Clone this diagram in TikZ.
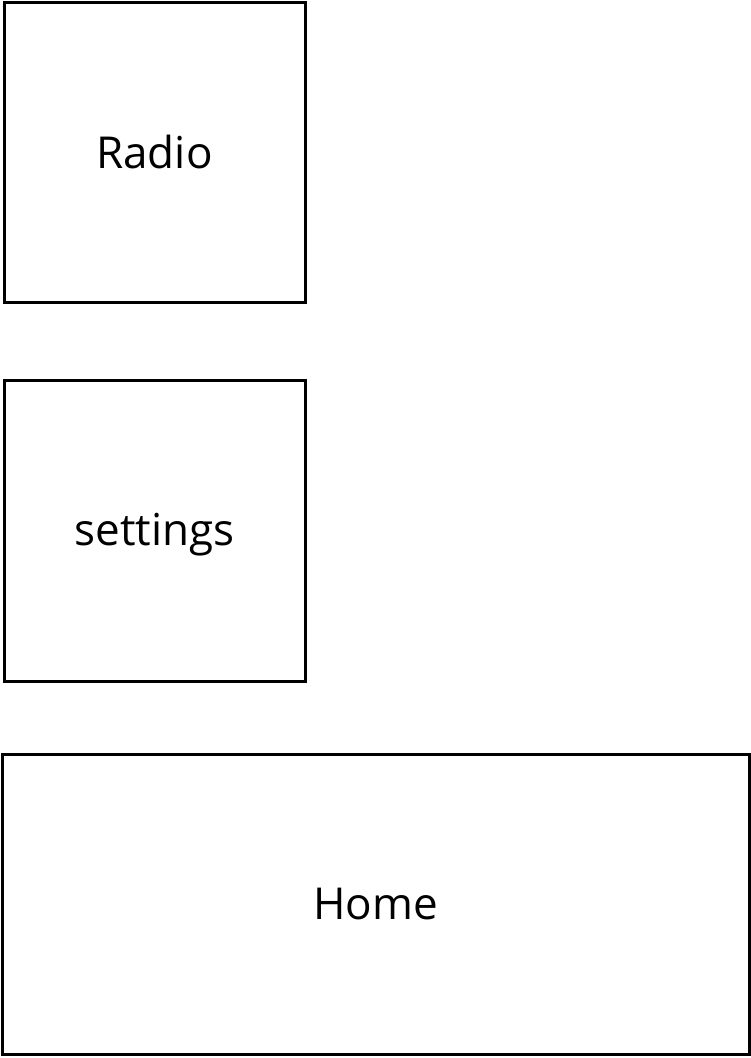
\documentclass[tikz,border=0pt]{standalone}
\usepackage{fontspec}
\setmainfont{Open Sans}
\begin{document}
\begin{tikzpicture}[x=1pt,y=-1pt,
  box/.style={draw=black,line width=3pt,fill=none},
  lbl/.style={font=\fontsize{44}{50}\selectfont,text=black,anchor=base}]
\useasboundingbox[fill=white] (0,0) rectangle (751,1058);
\draw[box] (4,2) rectangle (305,302);
\node[lbl] (radio) at (154.5,168) {Radio};
\draw[box] (4,380) rectangle (305,681);
\node[lbl] (settings) at (154.5,545) {settings};
\draw[box] (2,754) rectangle (749,1054);
\node[lbl] (home) at (375.5,919) {Home};
\end{tikzpicture}
\end{document}
